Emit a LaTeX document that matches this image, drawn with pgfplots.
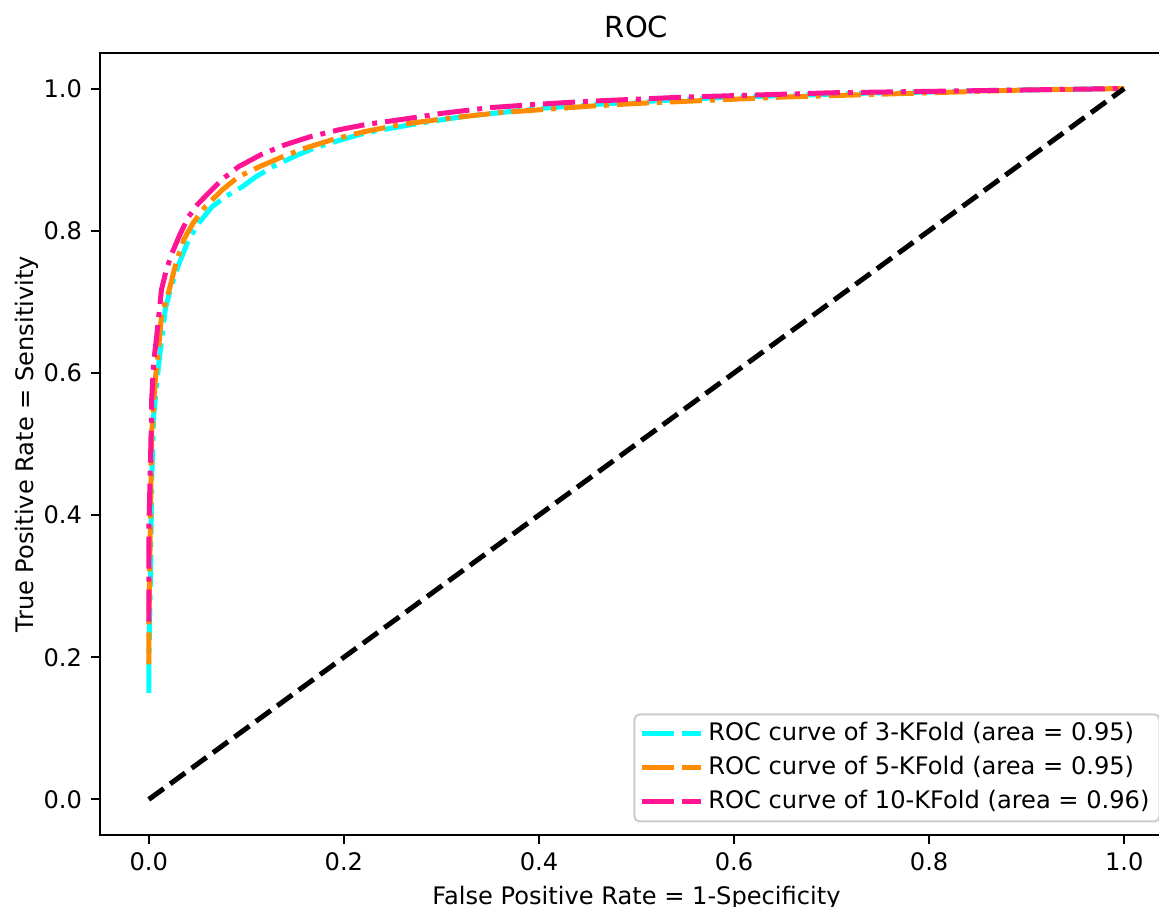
\documentclass[border=0pt]{standalone}
\usepackage{fontspec}
\setmainfont{DejaVu Sans}
\usepackage{pgfplots}
\pgfplotsset{compat=1.18}
\definecolor{mplcyan}{RGB}{0,255,255}
\definecolor{mplorange}{RGB}{255,140,0}
\definecolor{mplpink}{RGB}{255,20,147}
\tikzset{mpldashdot/.style={dash pattern=on 12.8pt off 3.2pt on 2pt off 3.2pt},
         mpldashed/.style={dash pattern=on 7.4pt off 3.2pt}}
\begin{document}
\begin{tikzpicture}
\begin{axis}[
  name=ax,
  at={(0,0)}, anchor=south west,
  scale only axis,
  width=429.2pt, height=312.8pt,
  xmin=-0.05, xmax=1.05, ymin=-0.05, ymax=1.05,
  xtick={0,0.2,0.4,0.6,0.8,1.0},
  ytick={0,0.2,0.4,0.6,0.8,1.0},
  tick align=outside, tick pos=left,
  major tick length=3.5pt,
  every tick/.style={line width=0.8pt, black},
  axis line style={line width=0.8pt},
  every axis/.append style={line width=0.8pt},
  /pgf/number format/.cd, fixed, fixed zerofill, precision=1, assume math mode=true,
  /pgfplots/.cd,
  title={ROC},
  every axis title shift=0pt,
  title style={at={(0.5,1)}, anchor=base, yshift=6pt, inner sep=0pt, font=\fontsize{11.6}{14}\selectfont},
  xlabel={False Positive Rate = 1-Specificity},
  ylabel={True Positive Rate = Sensitivity},
  xlabel style={yshift=1pt},
  ylabel style={yshift=-5.2pt},
  label style={font=\fontsize{9.65}{12}\selectfont},
  tick label style={font=\fontsize{9.65}{12}\selectfont},
  legend cell align=left,
  legend image code/.code={\draw[#1, line width=2pt, solid] (0pt,0pt) -- (12.8pt,0pt);
    \draw[#1, line width=2pt, solid] (16pt,0pt) -- (18pt,0pt);
    \path (18pt,0pt) -- (23.6pt,0pt);},
  legend style={at={(1,0)}, anchor=south east, xshift=-5pt, yshift=5pt,
    draw=black!20, line width=0.8pt, rounded corners=2pt, fill=white, fill opacity=0.8, text opacity=1,
    font=\fontsize{9.65}{12}\selectfont,
    inner xsep=2pt, inner ysep=2pt, row sep=2pt,
    nodes={inner ysep=1pt, inner xsep=2pt, text height=7.6pt, text depth=2pt}},
]
\addplot[mplcyan, line width=2pt, mpldashdot] coordinates {
(0,0.15) (0,0.19) (0.002,0.33) (0.003,0.45) (0.005,0.54) (0.010,0.61) (0.012,0.633)
(0.017,0.69) (0.022,0.717) (0.030,0.75) (0.041,0.788) (0.052,0.812) (0.065,0.834)
(0.080,0.849) (0.096,0.862) (0.110,0.876) (0.127,0.89) (0.150,0.905) (0.171,0.917)
(0.20,0.929) (0.223,0.938) (0.26,0.947) (0.29,0.954) (0.33,0.962) (0.36,0.966)
(0.40,0.972) (0.45,0.977) (0.50,0.981) (0.55,0.985) (0.60,0.988) (0.65,0.990)
(0.70,0.992) (0.75,0.994) (0.80,0.995) (0.85,0.997) (0.90,0.998) (0.95,0.999) (1,1)};
\addlegendentry{ROC curve of 3-KFold (area = 0.95)}
\addplot[mplorange, line width=2pt, mpldashdot] coordinates {
(0,0.19) (0,0.23) (0.002,0.42) (0.003,0.516) (0.007,0.595) (0.010,0.633) (0.013,0.68)
(0.021,0.717) (0.028,0.755) (0.036,0.788) (0.046,0.812) (0.058,0.834) (0.075,0.857)
(0.092,0.876) (0.115,0.891) (0.137,0.904) (0.16,0.916) (0.188,0.928) (0.22,0.939)
(0.257,0.949) (0.30,0.957) (0.359,0.966) (0.40,0.970) (0.45,0.975) (0.50,0.979)
(0.55,0.982) (0.60,0.985) (0.65,0.988) (0.70,0.990) (0.75,0.992) (0.80,0.994)
(0.85,0.996) (0.90,0.998) (0.95,0.999) (1,1)};
\addlegendentry{ROC curve of 5-KFold (area = 0.95)}
\addplot[mplpink, line width=2pt, mpldashdot] coordinates {
(0,0.25) (0,0.375) (0.002,0.49) (0.003,0.563) (0.005,0.615) (0.008,0.65) (0.011,0.69)
(0.013,0.717) (0.018,0.745) (0.024,0.769) (0.032,0.795) (0.041,0.82) (0.050,0.837)
(0.062,0.854) (0.076,0.873) (0.092,0.89) (0.115,0.907) (0.14,0.921) (0.165,0.932)
(0.195,0.942) (0.225,0.950) (0.257,0.956) (0.30,0.965) (0.349,0.973) (0.40,0.978)
(0.45,0.982) (0.50,0.985) (0.55,0.988) (0.60,0.990) (0.65,0.992) (0.70,0.994)
(0.75,0.995) (0.80,0.996) (0.85,0.997) (0.90,0.998) (0.95,0.999) (1,1)};
\addlegendentry{ROC curve of 10-KFold (area = 0.96)}
\addplot[black, line width=2pt, mpldashed, forget plot] coordinates {(0,0) (1,1)};
\end{axis}
\pgfresetboundingbox
\path[use as bounding box] ([shift={(-40pt,-28.8pt)}]ax.south west) rectangle ([shift={(423.6pt,334pt)}]ax.south west);
\end{tikzpicture}
\end{document}
